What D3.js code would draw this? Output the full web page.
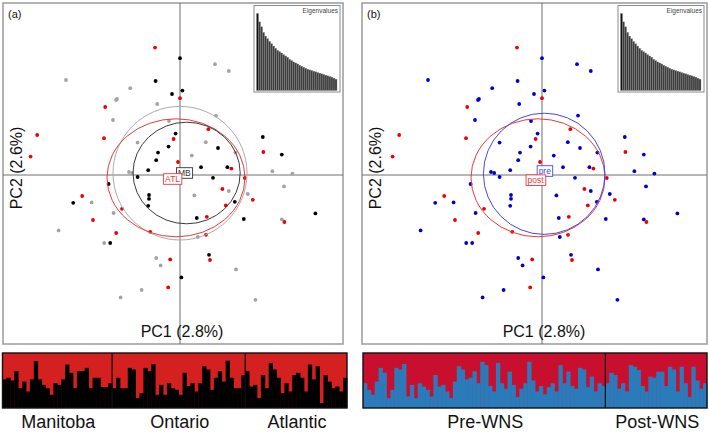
<!DOCTYPE html>
<html><head><meta charset="utf-8">
<script src="https://cdn.jsdelivr.net/npm/d3@7"></script>
<style>body{margin:0;background:#fff;} svg{display:block;font-family:Arial,"Liberation Sans",Helvetica,sans-serif;}</style>
</head><body><svg id="c" width="709" height="433"></svg>
<script>
// ---------- DATA ----------
const pc1 = [-1.25,0,1.75,2.44,-5.7,-1.22,-2.49,0.12,-0.4,-3.15,-3.2,0,-1.14,-3.74,-3.35,1.8,-0.55,1.42,-0.22,-7.14,
  -3.8,-0.32,4.14,-2.12,1.29,-0.57,1.9,4.17,2.77,-7.47,-1.1,0.59,5.09,-1.19,-0.1,1.05,2.37,2.57,4.62,5.62,
  -1.59,-2.55,-2.39,-2.12,1.65,3.24,-3.57,5.2,2.12,2.44,-4.89,-1.55,-1.55,0.72,3.39,3.64,-5.34,-4.42,2.29,2.74,
  -1.59,-2.9,-3.32,-4.35,0.84,1.34,3.19,6.77,5.09,5.22,-6.07,-3.19,-1.49,0.89,1.3,-3.79,-3.49,1.45,1.5,-1.19,
  -0.97,-0.49,2.8,0.07,-0.59,-1.92,-2.97,3.77];
const pc2 = [6.37,5.84,5.54,5.2,4.75,4.7,4.34,4.22,4.05,3.8,3.75,3.84,3.55,3.4,2.75,2.97,2.7,2.29,2.07,2.0,
  1.84,1.8,1.9,1.62,1.64,1.42,1.35,1.15,1.12,0.92,1.12,0.97,1.02,0.74,0.65,0.39,0.39,0.32,0.19,0.07,
  0.24,0.15,0.1,-0.1,-0.14,-0.15,-0.45,-0.57,-0.7,-0.8,-1.05,-1.0,-1.19,-1.02,-0.95,-1.24,-1.39,-1.37,-1.52,-1.34,
  -1.54,-1.69,-1.9,-2.25,-2.15,-2.09,-2.2,-1.92,-2.22,-2.35,-2.77,-2.9,-2.84,-3.1,-2.99,-3.4,-3.4,-3.99,-4.25,-4.15,
  -4.52,-4.22,-4.72,-5.12,-5.62,-5.75,-6.12,-6.24];
const region = ["ATL","MB","ON","ON","ON","MB","ON","MB","MB","ON","ON","ATL","ON","ATL","ON","ON","ON","ATL","MB","ATL",
  "ATL","ATL","MB","ON","ON","MB","MB","ATL","ON","ATL","MB","ON","MB","MB","ATL","MB","MB","ATL","ON","ON",
  "MB","ON","ON","MB","MB","ATL","MB","ON","ATL","ON","ATL","MB","MB","ON","ON","ATL","MB","ON","ATL","MB",
  "MB","ATL","ON","ATL","MB","ATL","MB","MB","ON","ATL","ON","ATL","ATL","ON","ATL","ON","MB","MB","ATL","ON",
  "ON","ATL","ON","MB","ATL","ON","ON","ON"];
const period = region.map(r => r === "ATL" ? "post" : "pre");

// group ellipses (centre and half-axes in PC units)
const ellRegion = ["ON","ATL","MB"];
const ellRegionCx = [0, -0.2, 0.33];
const ellRegionCy = [0.09, -0.14, 0.1];
const ellRegionRx = [3.35, 3.45, 2.68];
const ellRegionRy = [3.34, 2.95, 2.54];
const ellPeriod = ["post","pre"];
const ellPeriodCx = [-0.2, 0.11];
const ellPeriodCy = [-0.14, 0.06];
const ellPeriodRx = [3.35, 3.04];
const ellPeriodRy = [2.95, 3.03];
// group labels (drawn in this order, PC units)
const labRegion = ["MB","ATL"];
const labRegionX = [0.22, -0.37];
const labRegionY = [0.1, -0.2];
const labPeriod = ["pre","post"];
const labPeriodX = [0.14, -0.32];
const labPeriodY = [0.2, -0.26];

const eigenvalues = [7.74,6.9,6.4,5.84,5.47,5.2,4.94,4.7,4.47,4.24,4.04,3.9,3.77,3.6,3.47,3.34,3.14,3.0,2.87,2.77,
  2.67,2.54,2.44,2.34,2.24,2.14,2.07,2.0,1.94,1.87,1.8,1.74,1.67,1.6,1.54,1.47,1.4,1.34,1.24,1.14];

// STRUCTURE-like membership (share of lower cluster)
const stripManitoba = [0.52,0.55,0.5,0.67,0.36,0.48,0.3,0.52,0.85,0.52,0.42,0.36,0.24,0.45,0.42,0.52,0.79,0.64,0.36,0.67,
  0.67,0.73,0.36,0.55,0.55,0.38,0.38,0.45];
const stripOntario = [0.36,0.55,0.36,0.36,0.73,0.7,0.18,0.27,0.73,0.67,0.8,0.24,0.42,0.24,0.45,0.36,0.33,0.24,0.64,0.4,
  0.45,0.3,0.45,0.76,0.7,0.33,0.55,0.67,0.48,0.86,0.55,0.36,0.36,0.6];
const stripAtlantic = [0.67,0.39,0.42,0.18,0.6,0.36,0.82,0.7,0.55,0.27,0.45,0.3,0.6,0.64,0.55,0.3,0.79,0.52,0.76,0.09,
  0.6,0.48,0.36,0.39,0.3,0.55];
const stripPre = [0.45,0.33,0.24,0.48,0.73,0.64,0.18,0.33,0.73,0.7,0.8,0.21,0.42,0.18,0.45,0.39,0.33,0.21,0.6,0.39,
  0.42,0.3,0.18,0.48,0.76,0.7,0.52,0.55,0.67,0.45,0.84,0.78,0.4,0.3,0.82,0.45,0.35,0.66,0.42,0.2,
  0.35,0.45,0.84,0.5,0.3,0.4,0.25,0.38,0.45,0.3,0.78,0.45,0.66,0.4,0.35,0.73,0.7,0.38,0.57,0.3,0.45,0.4];
const stripPost = [0.45,0.64,0.6,0.35,0.45,0.3,0.78,0.75,0.69,0.4,0.3,0.57,0.55,0.66,0.66,0.4,0.75,0.7,0.3,0.75,
  0.45,0.2,0.75,0.5,0.35,0.45];

const stripLabelsA = ["Manitoba","Ontario","Atlantic"];
const stripLabelsB = ["Pre-WNS","Post-WNS"];
const axisLabelX = "PC1 (2.8%)";
const axisLabelY = "PC2 (2.6%)";

// ---------- DRAW ----------
const svg = d3.select("#c");

function panel(cfg) {
  const g = svg.append("g");
  const x = d3.scaleLinear().domain(cfg.xDom).range([cfg.left, cfg.right]);
  const y = d3.scaleLinear().domain(cfg.yDom).range([cfg.top, cfg.bottom]);
  g.append("rect").attr("x", cfg.left).attr("y", cfg.top)
    .attr("width", cfg.right - cfg.left).attr("height", cfg.bottom - cfg.top)
    .attr("fill", "#fff").attr("stroke", "#a0a0a0").attr("stroke-width", 1.6);
  g.append("line").attr("x1", x(0)).attr("x2", x(0)).attr("y1", cfg.top).attr("y2", cfg.bottom)
    .attr("stroke", "#6e6e6e").attr("stroke-width", 1);
  g.append("line").attr("x1", cfg.left).attr("x2", cfg.right).attr("y1", y(0)).attr("y2", y(0))
    .attr("stroke", "#6e6e6e").attr("stroke-width", 1);

  // axis titles
  g.append("text").attr("x", x(0) + 2).attr("y", cfg.bottom - 7).attr("text-anchor", "middle")
    .attr("font-size", 16).attr("fill", "#111").text(axisLabelX);
  g.append("text").attr("transform", `translate(${cfg.left + 19},${y(0) - 7}) rotate(-90)`)
    .attr("text-anchor", "middle").attr("font-size", 16).attr("fill", "#111").text(axisLabelY);
  g.append("text").attr("x", cfg.left + 5).attr("y", cfg.top + 15).attr("font-size", 11)
    .attr("fill", "#111").text(cfg.tag);

  // inset eigenvalues
  const ix0 = cfg.right - 89, ix1 = cfg.right - 3, iy0 = cfg.top + 2.5, iy1 = cfg.top + 89;
  g.append("rect").attr("x", ix0).attr("y", iy0).attr("width", ix1 - ix0).attr("height", iy1 - iy0)
    .attr("fill", "#fff").attr("stroke", "#8a8a8a").attr("stroke-width", 1);
  const ex = d3.scaleBand().domain(d3.range(eigenvalues.length)).range([ix0 + 2.5, ix1 - 3]).padding(0);
  const ey = d3.scaleLinear().domain([0, d3.max(eigenvalues)]).range([iy1 - 1.5, iy0 + 8]);
  g.selectAll("rect.eig").data(eigenvalues).join("rect").attr("class", "eig")
    .attr("x", (d, i) => ex(i)).attr("y", d => ey(d))
    .attr("width", ex.bandwidth()).attr("height", d => ey(0) - ey(d))
    .attr("fill", (d, i) => i === 0 ? "#111" : "#3c3c3c")
    .attr("stroke", "#8c8c8c").attr("stroke-width", 0.35);
  g.append("text").attr("x", ix1 - 2).attr("y", iy0 + 7).attr("text-anchor", "end")
    .attr("font-size", 6.5).attr("fill", "#444").text("Eigenvalues");

  // points
  g.selectAll("circle.pt").data(d3.range(pc1.length)).join("circle").attr("class", "pt")
    .attr("cx", i => x(pc1[i])).attr("cy", i => y(pc2[i])).attr("r", 1.9)
    .attr("fill", i => cfg.pointColor(i));

  // ellipses
  cfg.ell.forEach((name, k) => {
    g.append("ellipse").attr("cx", x(cfg.ecx[k])).attr("cy", y(cfg.ecy[k]))
      .attr("rx", x(cfg.erx[k]) - x(0)).attr("ry", y(0) - y(cfg.ery[k]))
      .attr("fill", "none").attr("stroke", cfg.ellColor[name]).attr("stroke-width", 1);
  });
  // labels
  cfg.lab.forEach((name, k) => {
    const lx = x(cfg.lx[k]), ly = y(cfg.ly[k]);
    const t = g.append("text").attr("x", lx).attr("y", ly + 3).attr("text-anchor", "middle")
      .attr("font-size", 8.5).attr("fill", cfg.labColor[name]).text(name);
    const bb = t.node().getBBox();
    g.insert("rect", () => t.node()).attr("x", bb.x - 1.5).attr("y", bb.y - 0.3)
      .attr("width", bb.width + 3).attr("height", bb.height + 0.6)
      .attr("fill", "#fff").attr("stroke", cfg.labColor[name]).attr("stroke-width", 0.9);
  });
}

panel({
  left: 3, right: 343, top: 3, bottom: 344,
  xDom: [-8.85, 8.15], yDom: [8.6, -8.45], tag: "(a)",
  pointColor: i => ({MB: "#000000", ON: "#a3a3a3", ATL: "#ee0000"})[region[i]],
  ell: ellRegion, ecx: ellRegionCx, ecy: ellRegionCy, erx: ellRegionRx, ery: ellRegionRy,
  lab: labRegion, lx: labRegionX, ly: labRegionY,
  ellColor: {MB: "#3a3a3a", ON: "#ababab", ATL: "#e83a3a"},
  labColor: {MB: "#333", ON: "#999", ATL: "#e83a3a"}
});
panel({
  left: 362, right: 707, top: 3, bottom: 344,
  xDom: [-9, 8.25], yDom: [8.6, -8.45], tag: "(b)",
  pointColor: i => period[i] === "pre" ? "#0000cc" : "#ee0000",
  ell: ellPeriod, ecx: ellPeriodCx, ecy: ellPeriodCy, erx: ellPeriodRx, ery: ellPeriodRy,
  lab: labPeriod, lx: labPeriodX, ly: labPeriodY,
  ellColor: {pre: "#4646e6", post: "#e83a3a"},
  labColor: {pre: "#4646e6", post: "#e83a3a"}
});

function strip(cfg) {
  const g = svg.append("g");
  const all = [];
  cfg.groups.forEach((grp, gi) => grp.forEach(v => all.push({v, gi})));
  const x = d3.scaleBand().domain(d3.range(all.length)).range([cfg.left, cfg.right]).padding(0);
  const y = d3.scaleLinear().domain([0, 1]).range([cfg.bottom, cfg.top]);
  g.append("rect").attr("x", cfg.left).attr("y", cfg.top).attr("width", cfg.right - cfg.left)
    .attr("height", cfg.bottom - cfg.top).attr("fill", cfg.topColor);
  g.selectAll("rect.b").data(all).join("rect").attr("class", "b")
    .attr("x", (d, i) => x(i)).attr("y", d => y(d.v))
    .attr("width", x.bandwidth() + 0.4).attr("height", d => y(0) - y(d.v))
    .attr("fill", cfg.lowColor);
  let start = 0;
  cfg.groups.forEach((grp, gi) => {
    const x0 = x(start), x1 = start + grp.length >= all.length ? cfg.right : x(start + grp.length);
    if (gi > 0) g.append("line").attr("x1", x0).attr("x2", x0).attr("y1", cfg.top).attr("y2", cfg.bottom)
      .attr("stroke", "#111").attr("stroke-width", 1.3);
    g.append("text").attr("x", (x0 + x1) / 2 + 1).attr("y", 428).attr("text-anchor", "middle")
      .attr("font-size", 18).attr("fill", "#111").text(cfg.labels[gi]);
    start += grp.length;
  });
  g.append("rect").attr("x", cfg.left).attr("y", cfg.top).attr("width", cfg.right - cfg.left)
    .attr("height", cfg.bottom - cfg.top).attr("fill", "none").attr("stroke", "#111").attr("stroke-width", 1.4);
}

strip({left: 2.5, right: 347, top: 353, bottom: 408,
  groups: [stripManitoba, stripOntario, stripAtlantic], labels: stripLabelsA,
  topColor: "#d4201f", lowColor: "#000000"});
strip({left: 363, right: 707, top: 353, bottom: 408,
  groups: [stripPre, stripPost], labels: stripLabelsB,
  topColor: "#c8102e", lowColor: "#2b7bbb"});
</script>
</body></html>
